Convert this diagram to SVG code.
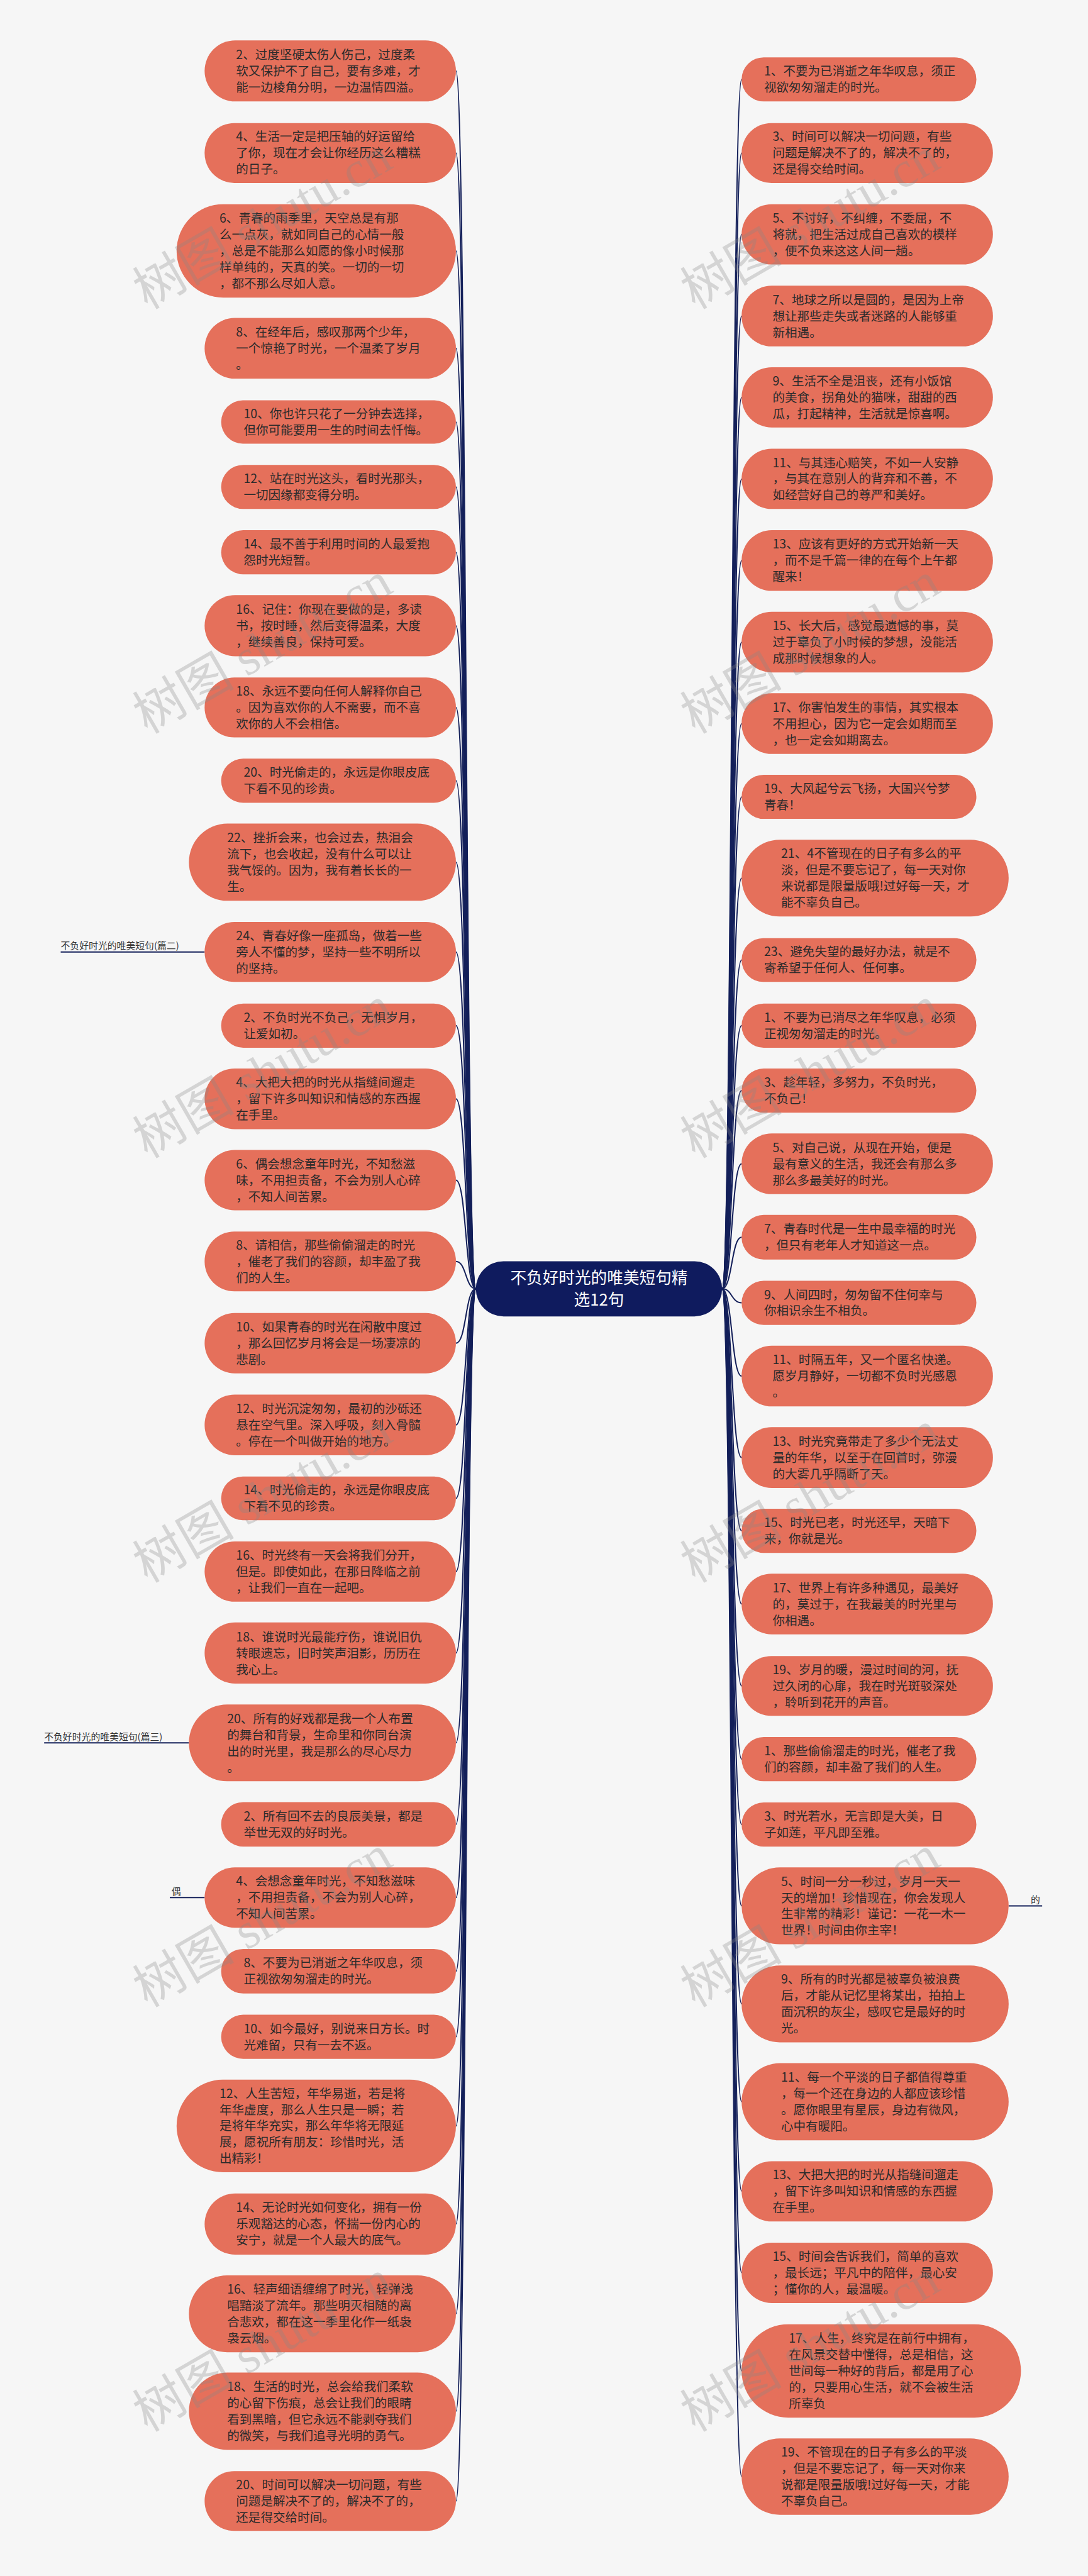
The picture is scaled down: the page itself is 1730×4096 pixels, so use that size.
<svg xmlns="http://www.w3.org/2000/svg" width="1730" height="4096" viewBox="0 0 1730 4096">
<style>
.bg{fill:#f6f6f6}
.n{fill:#E5705B}
.t{font-family:"Noto Sans CJK SC","Liberation Sans",sans-serif;font-size:29px;fill:#2b2b2b}
.c path{fill:none;stroke:#14205a;stroke-width:3}
.lb{font-family:"Noto Sans CJK SC","Liberation Sans",sans-serif;font-size:22px;fill:#333}
.ct{font-family:"Noto Sans CJK SC","Liberation Sans",sans-serif;font-size:38px;fill:#ffffff}
.wm{font-family:"Liberation Serif","Noto Sans CJK SC",serif;font-size:120px;fill:#888;opacity:0.3}
</style>
<rect class="bg" x="0" y="0" width="1730" height="4096"/>
<g transform="scale(0.675)">
<g class="c" id="connectors">
<path d="M1121 3036 C1096 3036 1099 167 1074 167"/>
<path d="M1121 3036 C1096 3036 1099 360.5 1074 360.5"/>
<path d="M1121 3036 C1096 3036 1099 591 1074 591"/>
<path d="M1121 3036 C1096 3036 1099 820.5 1074 820.5"/>
<path d="M1121 3036 C1096 3036 1099 994 1074 994"/>
<path d="M1121 3036 C1096 3036 1099 1147 1074 1147"/>
<path d="M1121 3036 C1096 3036 1099 1301 1074 1301"/>
<path d="M1121 3036 C1096 3036 1099 1474 1074 1474"/>
<path d="M1121 3036 C1096 3036 1099 1666.5 1074 1666.5"/>
<path d="M1121 3036 C1096 3036 1099 1839 1074 1839"/>
<path d="M1121 3036 C1096 3036 1099 2031 1074 2031"/>
<path d="M1121 3036 C1096 3036 1099 2242.5 1074 2242.5"/>
<path d="M1121 3036 C1096 3036 1099 2416 1074 2416"/>
<path d="M1121 3036 C1096 3036 1099 2588.5 1074 2588.5"/>
<path d="M1121 3036 C1096 3036 1099 2780 1074 2780"/>
<path d="M1121 3036 C1096 3036 1099 2971.5 1074 2971.5"/>
<path d="M1121 3036 C1096 3036 1099 3164 1074 3164"/>
<path d="M1121 3036 C1096 3036 1099 3356.5 1074 3356.5"/>
<path d="M1121 3036 C1096 3036 1099 3529.5 1074 3529.5"/>
<path d="M1121 3036 C1096 3036 1099 3702 1074 3702"/>
<path d="M1121 3036 C1096 3036 1099 3894 1074 3894"/>
<path d="M1121 3036 C1096 3036 1099 4105.5 1074 4105.5"/>
<path d="M1121 3036 C1096 3036 1099 4297.5 1074 4297.5"/>
<path d="M1121 3036 C1096 3036 1099 4470 1074 4470"/>
<path d="M1121 3036 C1096 3036 1099 4643.5 1074 4643.5"/>
<path d="M1121 3036 C1096 3036 1099 4798 1074 4798"/>
<path d="M1121 3036 C1096 3036 1099 5008 1074 5008"/>
<path d="M1121 3036 C1096 3036 1099 5239 1074 5239"/>
<path d="M1121 3036 C1096 3036 1099 5450.5 1074 5450.5"/>
<path d="M1121 3036 C1096 3036 1099 5680 1074 5680"/>
<path d="M1121 3036 C1096 3036 1099 5891.5 1074 5891.5"/>
<path d="M1701 3036 C1725 3036 1723 187 1747 187"/>
<path d="M1701 3036 C1725 3036 1723 360.5 1747 360.5"/>
<path d="M1701 3036 C1725 3036 1723 552 1747 552"/>
<path d="M1701 3036 C1725 3036 1723 744.5 1747 744.5"/>
<path d="M1701 3036 C1725 3036 1723 936 1747 936"/>
<path d="M1701 3036 C1725 3036 1723 1128 1747 1128"/>
<path d="M1701 3036 C1725 3036 1723 1320.5 1747 1320.5"/>
<path d="M1701 3036 C1725 3036 1723 1512.5 1747 1512.5"/>
<path d="M1701 3036 C1725 3036 1723 1704.5 1747 1704.5"/>
<path d="M1701 3036 C1725 3036 1723 1877 1747 1877"/>
<path d="M1701 3036 C1725 3036 1723 2068.5 1747 2068.5"/>
<path d="M1701 3036 C1725 3036 1723 2261.5 1747 2261.5"/>
<path d="M1701 3036 C1725 3036 1723 2416 1747 2416"/>
<path d="M1701 3036 C1725 3036 1723 2569 1747 2569"/>
<path d="M1701 3036 C1725 3036 1723 2741.5 1747 2741.5"/>
<path d="M1701 3036 C1725 3036 1723 2914.5 1747 2914.5"/>
<path d="M1701 3036 C1725 3036 1723 3069 1747 3069"/>
<path d="M1701 3036 C1725 3036 1723 3241.5 1747 3241.5"/>
<path d="M1701 3036 C1725 3036 1723 3433.5 1747 3433.5"/>
<path d="M1701 3036 C1725 3036 1723 3606 1747 3606"/>
<path d="M1701 3036 C1725 3036 1723 3778.5 1747 3778.5"/>
<path d="M1701 3036 C1725 3036 1723 3971.5 1747 3971.5"/>
<path d="M1701 3036 C1725 3036 1723 4144 1747 4144"/>
<path d="M1701 3036 C1725 3036 1723 4298 1747 4298"/>
<path d="M1701 3036 C1725 3036 1723 4489.5 1747 4489.5"/>
<path d="M1701 3036 C1725 3036 1723 4720.5 1747 4720.5"/>
<path d="M1701 3036 C1725 3036 1723 4951 1747 4951"/>
<path d="M1701 3036 C1725 3036 1723 5162 1747 5162"/>
<path d="M1701 3036 C1725 3036 1723 5354 1747 5354"/>
<path d="M1701 3036 C1725 3036 1723 5585 1747 5585"/>
<path d="M1701 3036 C1725 3036 1723 5834 1747 5834"/>
<path d="M482 2242.5 L143 2242.5"/>
<path d="M445 4105.5 L104 4105.5"/>
<path d="M482 4470 L400 4470"/>
<path d="M2376 4489.5 L2455 4489.5"/>
</g>
<g id="center"><rect x="1121" y="2971" width="580" height="130" rx="65" fill="#0f1b5e"/>
<text class="ct" text-anchor="middle"><tspan x="1411" y="3023">不负好时光的唯美短句精</tspan><tspan x="1411" y="3076">选12句</tspan></text></g>
<g id="label2"><text class="lb" x="143" y="2236">不负好时光的唯美短句(篇二)</text></g>
<g id="label3"><text class="lb" x="104" y="4099">不负好时光的唯美短句(篇三)</text></g>
<g id="label-ou"><text class="lb" x="404" y="4463">偶</text></g>
<g id="label-de"><text class="lb" x="2428" y="4483">的</text></g>
<g id="L1"><rect class="n" x="482" y="95" width="592" height="144" rx="72"/><text class="t"><tspan x="556" y="139">2、过度坚硬太伤人伤己，过度柔</tspan><tspan x="556" y="177.5">软又保护不了自己，要有多难，才</tspan><tspan x="556" y="216">能一边棱角分明，一边温情四溢。</tspan></text></g>
<g id="L2"><rect class="n" x="482" y="290" width="592" height="141" rx="70"/><text class="t"><tspan x="556" y="332.5">4、生活一定是把压轴的好运留给</tspan><tspan x="556" y="371">了你，现在才会让你经历这么糟糕</tspan><tspan x="556" y="409.5">的日子。</tspan></text></g>
<g id="L3"><rect class="n" x="416" y="481" width="658" height="220" rx="110"/><text class="t"><tspan x="517" y="524.5">6、青春的雨季里，天空总是有那</tspan><tspan x="517" y="563">么一点灰，就如同自己的心情一般</tspan><tspan x="517" y="601.5">，总是不能那么如愿的像小时候那</tspan><tspan x="517" y="640">样单纯的，天真的笑。一切的一切</tspan><tspan x="517" y="678.5">，都不那么尽如人意。</tspan></text></g>
<g id="L4"><rect class="n" x="482" y="749" width="592" height="143" rx="71"/><text class="t"><tspan x="556" y="792.5">8、在经年后，感叹那两个少年，</tspan><tspan x="556" y="831">一个惊艳了时光，一个温柔了岁月</tspan><tspan x="556" y="869.5">。</tspan></text></g>
<g id="L5"><rect class="n" x="521" y="943" width="553" height="102" rx="51"/><text class="t"><tspan x="574" y="985.25">10、你也许只花了一分钟去选择，</tspan><tspan x="574" y="1023.75">但你可能要用一生的时间去忏悔。</tspan></text></g>
<g id="L6"><rect class="n" x="521" y="1095" width="553" height="104" rx="52"/><text class="t"><tspan x="574" y="1138">12、站在时光这头，看时光那头，</tspan><tspan x="574" y="1176.5">一切因缘都变得分明。</tspan></text></g>
<g id="L7"><rect class="n" x="521" y="1249" width="553" height="104" rx="52"/><text class="t"><tspan x="574" y="1292">14、最不善于利用时间的人最爱抱</tspan><tspan x="574" y="1330.5">怨时光短暂。</tspan></text></g>
<g id="L8"><rect class="n" x="482" y="1402" width="592" height="144" rx="72"/><text class="t"><tspan x="556" y="1446">16、记住：你现在要做的是，多读</tspan><tspan x="556" y="1484.5">书，按时睡，然后变得温柔，大度</tspan><tspan x="556" y="1523">，继续善良，保持可爱。</tspan></text></g>
<g id="L9"><rect class="n" x="482" y="1596" width="592" height="141" rx="70"/><text class="t"><tspan x="556" y="1638.5">18、永远不要向任何人解释你自己</tspan><tspan x="556" y="1677">。因为喜欢你的人不需要，而不喜</tspan><tspan x="556" y="1715.5">欢你的人不会相信。</tspan></text></g>
<g id="L10"><rect class="n" x="521" y="1787" width="553" height="104" rx="52"/><text class="t"><tspan x="574" y="1830">20、时光偷走的，永远是你眼皮底</tspan><tspan x="574" y="1868.5">下看不见的珍贵。</tspan></text></g>
<g id="L11"><rect class="n" x="445" y="1940" width="629" height="182" rx="91"/><text class="t"><tspan x="535" y="1983.75">22、挫折会来，也会过去，热泪会</tspan><tspan x="535" y="2022.25">流下，也会收起，没有什么可以让</tspan><tspan x="535" y="2060.75">我气馁的。因为，我有着长长的一</tspan><tspan x="535" y="2099.25">生。</tspan></text></g>
<g id="L12"><rect class="n" x="482" y="2172" width="592" height="141" rx="70"/><text class="t"><tspan x="556" y="2214.5">24、青春好像一座孤岛，做着一些</tspan><tspan x="556" y="2253">旁人不懂的梦，坚持一些不明所以</tspan><tspan x="556" y="2291.5">的坚持。</tspan></text></g>
<g id="L13"><rect class="n" x="521" y="2364" width="553" height="104" rx="52"/><text class="t"><tspan x="574" y="2407">2、不负时光不负己，无惧岁月，</tspan><tspan x="574" y="2445.5">让爱如初。</tspan></text></g>
<g id="L14"><rect class="n" x="482" y="2517" width="592" height="143" rx="71"/><text class="t"><tspan x="556" y="2560.5">4、大把大把的时光从指缝间遛走</tspan><tspan x="556" y="2599">，留下许多叫知识和情感的东西握</tspan><tspan x="556" y="2637.5">在手里。</tspan></text></g>
<g id="L15"><rect class="n" x="482" y="2709" width="592" height="142" rx="71"/><text class="t"><tspan x="556" y="2752">6、偶会想念童年时光，不知愁滋</tspan><tspan x="556" y="2790.5">味，不用担责备，不会为别人心碎</tspan><tspan x="556" y="2829">，不知人间苦累。</tspan></text></g>
<g id="L16"><rect class="n" x="482" y="2901" width="592" height="141" rx="70"/><text class="t"><tspan x="556" y="2943.5">8、请相信，那些偷偷溜走的时光</tspan><tspan x="556" y="2982">，催老了我们的容颜，却丰盈了我</tspan><tspan x="556" y="3020.5">们的人生。</tspan></text></g>
<g id="L17"><rect class="n" x="482" y="3093" width="592" height="142" rx="71"/><text class="t"><tspan x="556" y="3136">10、如果青春的时光在闲散中度过</tspan><tspan x="556" y="3174.5">，那么回忆岁月将会是一场凄凉的</tspan><tspan x="556" y="3213">悲剧。</tspan></text></g>
<g id="L18"><rect class="n" x="482" y="3285" width="592" height="143" rx="71"/><text class="t"><tspan x="556" y="3328.5">12、时光沉淀匆匆，最初的沙砾还</tspan><tspan x="556" y="3367">悬在空气里。深入呼吸，刻入骨髓</tspan><tspan x="556" y="3405.5">。停在一个叫做开始的地方。</tspan></text></g>
<g id="L19"><rect class="n" x="521" y="3478" width="553" height="103" rx="51"/><text class="t"><tspan x="574" y="3520.5">14、时光偷走的，永远是你眼皮底</tspan><tspan x="574" y="3559">下看不见的珍贵。</tspan></text></g>
<g id="L20"><rect class="n" x="482" y="3631" width="592" height="142" rx="71"/><text class="t"><tspan x="556" y="3674">16、时光终有一天会将我们分开，</tspan><tspan x="556" y="3712.5">但是。即使如此，在那日降临之前</tspan><tspan x="556" y="3751">，让我们一直在一起吧。</tspan></text></g>
<g id="L21"><rect class="n" x="482" y="3822" width="592" height="144" rx="72"/><text class="t"><tspan x="556" y="3866">18、谁说时光最能疗伤，谁说旧仇</tspan><tspan x="556" y="3904.5">转眼遗忘，旧时笑声泪影，历历在</tspan><tspan x="556" y="3943">我心上。</tspan></text></g>
<g id="L22"><rect class="n" x="445" y="4015" width="629" height="181" rx="90"/><text class="t"><tspan x="535" y="4059.25">20、所有的好戏都是我一个人布置</tspan><tspan x="535" y="4097.75">的舞台和背景，生命里和你同台演</tspan><tspan x="535" y="4136.25">出的时光里，我是那么的尽心尽力</tspan><tspan x="535" y="4174.75">。</tspan></text></g>
<g id="L23"><rect class="n" x="521" y="4245" width="553" height="105" rx="52"/><text class="t"><tspan x="574" y="4288.5">2、所有回不去的良辰美景，都是</tspan><tspan x="574" y="4327">举世无双的好时光。</tspan></text></g>
<g id="L24"><rect class="n" x="482" y="4399" width="592" height="142" rx="71"/><text class="t"><tspan x="556" y="4442">4、会想念童年时光，不知愁滋味</tspan><tspan x="556" y="4480.5">，不用担责备，不会为别人心碎，</tspan><tspan x="556" y="4519">不知人间苦累。</tspan></text></g>
<g id="L25"><rect class="n" x="521" y="4591" width="553" height="105" rx="52"/><text class="t"><tspan x="574" y="4634.5">8、不要为已消逝之年华叹息，须</tspan><tspan x="574" y="4673">正视欲匆匆溜走的时光。</tspan></text></g>
<g id="L26"><rect class="n" x="521" y="4746" width="553" height="104" rx="52"/><text class="t"><tspan x="574" y="4789">10、如今最好，别说来日方长。时</tspan><tspan x="574" y="4827.5">光难留，只有一去不返。</tspan></text></g>
<g id="L27"><rect class="n" x="416" y="4899" width="658" height="218" rx="109"/><text class="t"><tspan x="517" y="4941.5">12、人生苦短，年华易逝，若是将</tspan><tspan x="517" y="4980">年华虚度，那么人生只是一瞬；若</tspan><tspan x="517" y="5018.5">是将年华充实，那么年华将无限延</tspan><tspan x="517" y="5057">展，愿祝所有朋友：珍惜时光，活</tspan><tspan x="517" y="5095.5">出精彩！</tspan></text></g>
<g id="L28"><rect class="n" x="482" y="5167" width="592" height="144" rx="72"/><text class="t"><tspan x="556" y="5211">14、无论时光如何变化，拥有一份</tspan><tspan x="556" y="5249.5">乐观豁达的心态，怀揣一份内心的</tspan><tspan x="556" y="5288">安宁，就是一个人最大的底气。</tspan></text></g>
<g id="L29"><rect class="n" x="445" y="5360" width="629" height="181" rx="90"/><text class="t"><tspan x="535" y="5403.25">16、轻声细语缠绵了时光，轻弹浅</tspan><tspan x="535" y="5441.75">唱黯淡了流年。那些明灭相随的离</tspan><tspan x="535" y="5480.25">合悲欢，都在这一季里化作一纸袅</tspan><tspan x="535" y="5518.75">袅云烟。</tspan></text></g>
<g id="L30"><rect class="n" x="445" y="5589" width="629" height="182" rx="91"/><text class="t"><tspan x="535" y="5632.75">18、生活的时光，总会给我们柔软</tspan><tspan x="535" y="5671.25">的心留下伤痕，总会让我们的眼睛</tspan><tspan x="535" y="5709.75">看到黑暗，但它永远不能剥夺我们</tspan><tspan x="535" y="5748.25">的微笑，与我们追寻光明的勇气。</tspan></text></g>
<g id="L31"><rect class="n" x="482" y="5821" width="592" height="141" rx="70"/><text class="t"><tspan x="556" y="5863.5">20、时间可以解决一切问题，有些</tspan><tspan x="556" y="5902">问题是解决不了的，解决不了的，</tspan><tspan x="556" y="5940.5">还是得交给时间。</tspan></text></g>
<g id="R1"><rect class="n" x="1747" y="135" width="553" height="104" rx="52"/><text class="t"><tspan x="1800" y="178">1、不要为已消逝之年华叹息，须正</tspan><tspan x="1800" y="216.5">视欲匆匆溜走的时光。</tspan></text></g>
<g id="R2"><rect class="n" x="1747" y="290" width="592" height="141" rx="70"/><text class="t"><tspan x="1820" y="332.5">3、时间可以解决一切问题，有些</tspan><tspan x="1820" y="371">问题是解决不了的，解决不了的，</tspan><tspan x="1820" y="409.5">还是得交给时间。</tspan></text></g>
<g id="R3"><rect class="n" x="1747" y="481" width="592" height="142" rx="71"/><text class="t"><tspan x="1820" y="524">5、不讨好，不纠缠，不委屈，不</tspan><tspan x="1820" y="562.5">将就，把生活过成自己喜欢的模样</tspan><tspan x="1820" y="601">，便不负来这这人间一趟。</tspan></text></g>
<g id="R4"><rect class="n" x="1747" y="673" width="592" height="143" rx="71"/><text class="t"><tspan x="1820" y="716.5">7、地球之所以是圆的，是因为上帝</tspan><tspan x="1820" y="755">想让那些走失或者迷路的人能够重</tspan><tspan x="1820" y="793.5">新相遇。</tspan></text></g>
<g id="R5"><rect class="n" x="1747" y="865" width="592" height="142" rx="71"/><text class="t"><tspan x="1820" y="908">9、生活不全是沮丧，还有小饭馆</tspan><tspan x="1820" y="946.5">的美食，拐角处的猫咪，甜甜的西</tspan><tspan x="1820" y="985">瓜，打起精神，生活就是惊喜啊。</tspan></text></g>
<g id="R6"><rect class="n" x="1747" y="1057" width="592" height="142" rx="71"/><text class="t"><tspan x="1820" y="1100">11、与其违心赔笑，不如一人安静</tspan><tspan x="1820" y="1138.5">，与其在意别人的背弃和不善，不</tspan><tspan x="1820" y="1177">如经营好自己的尊严和美好。</tspan></text></g>
<g id="R7"><rect class="n" x="1747" y="1249" width="592" height="143" rx="71"/><text class="t"><tspan x="1820" y="1292.5">13、应该有更好的方式开始新一天</tspan><tspan x="1820" y="1331">，而不是千篇一律的在每个上午都</tspan><tspan x="1820" y="1369.5">醒来！</tspan></text></g>
<g id="R8"><rect class="n" x="1747" y="1441" width="592" height="143" rx="71"/><text class="t"><tspan x="1820" y="1484.5">15、长大后，感觉最遗憾的事，莫</tspan><tspan x="1820" y="1523">过于辜负了小时候的梦想，没能活</tspan><tspan x="1820" y="1561.5">成那时候想象的人。</tspan></text></g>
<g id="R9"><rect class="n" x="1747" y="1633" width="592" height="143" rx="71"/><text class="t"><tspan x="1820" y="1676.5">17、你害怕发生的事情，其实根本</tspan><tspan x="1820" y="1715">不用担心，因为它一定会如期而至</tspan><tspan x="1820" y="1753.5">，也一定会如期离去。</tspan></text></g>
<g id="R10"><rect class="n" x="1747" y="1825" width="553" height="104" rx="52"/><text class="t"><tspan x="1800" y="1868">19、大风起兮云飞扬，大国兴兮梦</tspan><tspan x="1800" y="1906.5">青春！</tspan></text></g>
<g id="R11"><rect class="n" x="1747" y="1978" width="629" height="181" rx="90"/><text class="t"><tspan x="1840" y="2021.25">21、4不管现在的日子有多么的平</tspan><tspan x="1840" y="2059.75">淡，但是不要忘记了，每一天对你</tspan><tspan x="1840" y="2098.25">来说都是限量版哦!过好每一天，才</tspan><tspan x="1840" y="2136.75">能不辜负自己。</tspan></text></g>
<g id="R12"><rect class="n" x="1747" y="2210" width="553" height="103" rx="51"/><text class="t"><tspan x="1800" y="2252.5">23、避免失望的最好办法，就是不</tspan><tspan x="1800" y="2291">寄希望于任何人、任何事。</tspan></text></g>
<g id="R13"><rect class="n" x="1747" y="2364" width="553" height="104" rx="52"/><text class="t"><tspan x="1800" y="2407">1、不要为已消尽之年华叹息，必须</tspan><tspan x="1800" y="2445.5">正视匆匆溜走的时光。</tspan></text></g>
<g id="R14"><rect class="n" x="1747" y="2517" width="553" height="104" rx="52"/><text class="t"><tspan x="1800" y="2560">3、趁年轻，多努力，不负时光，</tspan><tspan x="1800" y="2598.5">不负己！</tspan></text></g>
<g id="R15"><rect class="n" x="1747" y="2670" width="592" height="143" rx="71"/><text class="t"><tspan x="1820" y="2713.5">5、对自己说，从现在开始，便是</tspan><tspan x="1820" y="2752">最有意义的生活，我还会有那么多</tspan><tspan x="1820" y="2790.5">那么多最美好的时光。</tspan></text></g>
<g id="R16"><rect class="n" x="1747" y="2862" width="553" height="105" rx="52"/><text class="t"><tspan x="1800" y="2905.5">7、青春时代是一生中最幸福的时光</tspan><tspan x="1800" y="2944">，但只有老年人才知道这一点。</tspan></text></g>
<g id="R17"><rect class="n" x="1747" y="3017" width="553" height="104" rx="52"/><text class="t"><tspan x="1800" y="3060">9、人间四时，匆匆留不住何幸与</tspan><tspan x="1800" y="3098.5">你相识余生不相负。</tspan></text></g>
<g id="R18"><rect class="n" x="1747" y="3170" width="592" height="143" rx="71"/><text class="t"><tspan x="1820" y="3213.5">11、时隔五年，又一个匿名快递。</tspan><tspan x="1820" y="3252">愿岁月静好，一切都不负时光感恩</tspan><tspan x="1820" y="3290.5">。</tspan></text></g>
<g id="R19"><rect class="n" x="1747" y="3362" width="592" height="143" rx="71"/><text class="t"><tspan x="1820" y="3405.5">13、时光究竟带走了多少个无法丈</tspan><tspan x="1820" y="3444">量的年华，以至于在回首时，弥漫</tspan><tspan x="1820" y="3482.5">的大雾几乎隔断了天。</tspan></text></g>
<g id="R20"><rect class="n" x="1747" y="3554" width="553" height="104" rx="52"/><text class="t"><tspan x="1800" y="3597">15、时光已老，时光还早，天暗下</tspan><tspan x="1800" y="3635.5">来，你就是光。</tspan></text></g>
<g id="R21"><rect class="n" x="1747" y="3707" width="592" height="143" rx="71"/><text class="t"><tspan x="1820" y="3750.5">17、世界上有许多种遇见，最美好</tspan><tspan x="1820" y="3789">的，莫过于，在我最美的时光里与</tspan><tspan x="1820" y="3827.5">你相遇。</tspan></text></g>
<g id="R22"><rect class="n" x="1747" y="3901" width="592" height="141" rx="70"/><text class="t"><tspan x="1820" y="3943.5">19、岁月的暖，漫过时间的河，抚</tspan><tspan x="1820" y="3982">过久闭的心扉，我在时光斑驳深处</tspan><tspan x="1820" y="4020.5">，聆听到花开的声音。</tspan></text></g>
<g id="R23"><rect class="n" x="1747" y="4092" width="553" height="104" rx="52"/><text class="t"><tspan x="1800" y="4135">1、那些偷偷溜走的时光，催老了我</tspan><tspan x="1800" y="4173.5">们的容颜，却丰盈了我们的人生。</tspan></text></g>
<g id="R24"><rect class="n" x="1747" y="4246" width="553" height="104" rx="52"/><text class="t"><tspan x="1800" y="4289">3、时光若水，无言即是大美，日</tspan><tspan x="1800" y="4327.5">子如莲，平凡即至雅。</tspan></text></g>
<g id="R25"><rect class="n" x="1747" y="4399" width="629" height="181" rx="90"/><text class="t"><tspan x="1840" y="4442.25">5、时间一分一秒过，岁月一天一</tspan><tspan x="1840" y="4480.75">天的增加！珍惜现在，你会发现人</tspan><tspan x="1840" y="4519.25">生非常的精彩！谨记：一花一木一</tspan><tspan x="1840" y="4557.75">世界！时间由你主宰！</tspan></text></g>
<g id="R26"><rect class="n" x="1747" y="4630" width="629" height="181" rx="90"/><text class="t"><tspan x="1840" y="4673.25">9、所有的时光都是被辜负被浪费</tspan><tspan x="1840" y="4711.75">后，才能从记忆里将某出，拍拍上</tspan><tspan x="1840" y="4750.25">面沉积的灰尘，感叹它是最好的时</tspan><tspan x="1840" y="4788.75">光。</tspan></text></g>
<g id="R27"><rect class="n" x="1747" y="4860" width="629" height="182" rx="91"/><text class="t"><tspan x="1840" y="4903.75">11、每一个平淡的日子都值得尊重</tspan><tspan x="1840" y="4942.25">，每一个还在身边的人都应该珍惜</tspan><tspan x="1840" y="4980.75">。愿你眼里有星辰，身边有微风，</tspan><tspan x="1840" y="5019.25">心中有暖阳。</tspan></text></g>
<g id="R28"><rect class="n" x="1747" y="5091" width="592" height="142" rx="71"/><text class="t"><tspan x="1820" y="5134">13、大把大把的时光从指缝间遛走</tspan><tspan x="1820" y="5172.5">，留下许多叫知识和情感的东西握</tspan><tspan x="1820" y="5211">在手里。</tspan></text></g>
<g id="R29"><rect class="n" x="1747" y="5283" width="592" height="142" rx="71"/><text class="t"><tspan x="1820" y="5326">15、时间会告诉我们，简单的喜欢</tspan><tspan x="1820" y="5364.5">，最长远；平凡中的陪伴，最心安</tspan><tspan x="1820" y="5403">；懂你的人，最温暖。</tspan></text></g>
<g id="R30"><rect class="n" x="1747" y="5475" width="658" height="220" rx="110"/><text class="t"><tspan x="1858" y="5518.5">17、人生，终究是在前行中拥有，</tspan><tspan x="1858" y="5557">在风景交替中懂得，总是相信，这</tspan><tspan x="1858" y="5595.5">世间每一种好的背后，都是用了心</tspan><tspan x="1858" y="5634">的，只要用心生活，就不会被生活</tspan><tspan x="1858" y="5672.5">所辜负</tspan></text></g>
<g id="R31"><rect class="n" x="1747" y="5744" width="629" height="180" rx="90"/><text class="t"><tspan x="1840" y="5786.75">19、不管现在的日子有多么的平淡</tspan><tspan x="1840" y="5825.25">，但是不要忘记了，每一天对你来</tspan><tspan x="1840" y="5863.75">说都是限量版哦!过好每一天，才能</tspan><tspan x="1840" y="5902.25">不辜负自己。</tspan></text></g>
<g id="watermark">
<text class="wm" transform="translate(347 730) rotate(-30)">树图 shutu.cn</text>
<text class="wm" transform="translate(1637 730) rotate(-30)">树图 shutu.cn</text>
<text class="wm" transform="translate(347 1730) rotate(-30)">树图 shutu.cn</text>
<text class="wm" transform="translate(1637 1730) rotate(-30)">树图 shutu.cn</text>
<text class="wm" transform="translate(347 2730) rotate(-30)">树图 shutu.cn</text>
<text class="wm" transform="translate(1637 2730) rotate(-30)">树图 shutu.cn</text>
<text class="wm" transform="translate(347 3730) rotate(-30)">树图 shutu.cn</text>
<text class="wm" transform="translate(1637 3730) rotate(-30)">树图 shutu.cn</text>
<text class="wm" transform="translate(347 4730) rotate(-30)">树图 shutu.cn</text>
<text class="wm" transform="translate(1637 4730) rotate(-30)">树图 shutu.cn</text>
<text class="wm" transform="translate(347 5730) rotate(-30)">树图 shutu.cn</text>
<text class="wm" transform="translate(1637 5730) rotate(-30)">树图 shutu.cn</text>
</g>
</g>
</svg>
